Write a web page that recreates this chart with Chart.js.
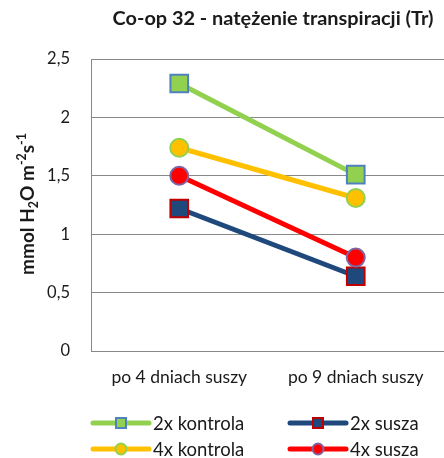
<!DOCTYPE html>
<html>
<head>
<meta charset="utf-8">
<script src="https://cdn.jsdelivr.net/npm/chart.js@4.4.1/dist/chart.umd.min.js"></script>
<style>
    html, body { margin: 0; padding: 0; background: #fff; }
    #wrap { width: 444px; height: 458px; overflow: hidden; }
</style>
</head>
<body>
<div id="wrap"><canvas id="trChart" width="444" height="458"></canvas></div>
<script>
const categories = ['po 4 dniach suszy', 'po 9 dniach suszy'];
const kontrola2x = [2.29, 1.51];
const susza2x = [1.22, 0.64];
const kontrola4x = [1.74, 1.31];
const susza4x = [1.50, 0.80];
const yMin = 0, yMax = 2.5, yStep = 0.5;

const FONT = 'Lato, "Open Sans", sans-serif';
const TEXT = '#1a1a1a';
const GRID = '#888888';

// dobiera rozmiar czcionki tak, żeby tekst miał zadaną szerokość
function fitSize(ctx, weight, text, width) {
    ctx.font = weight + ' 100px ' + FONT;
    return 100 * width / ctx.measureText(text).width;
}

// tytuł wykresu
const titlePlugin = {
    id: 'tytul',
    afterDraw(chart) {
        const ctx = chart.ctx;
        const txt = 'Co-op 32 - natężenie transpiracji (Tr)';
        ctx.save();
        const size = fitSize(ctx, 'bold', txt, 321);
        ctx.font = 'bold ' + size + 'px ' + FONT;
        ctx.fillStyle = TEXT;
        ctx.textAlign = 'center';
        ctx.textBaseline = 'alphabetic';
        ctx.fillText(txt, 273, 25);
        ctx.restore();
    }
};

// opis osi Y z indeksami
const yTitlePlugin = {
    id: 'osY',
    afterDraw(chart) {
        const ctx = chart.ctx;
        const parts = [
            ['mmol H', 0], ['2', 1], ['O m', 0], ['-2', -1], ['s', 0], ['-1', -1]
        ];
        ctx.save();
        // szerokość liczona dla rozmiaru 100px, potem skalowana
        let w100 = 0;
        parts.forEach(p => {
            ctx.font = 'bold ' + (p[1] ? 65 : 100) + 'px ' + FONT;
            w100 += ctx.measureText(p[0]).width;
        });
        const big = 100 * 142 / w100, small = big * 0.65;
        let total = w100 * big / 100;
        ctx.translate(34, 204);
        ctx.rotate(-Math.PI / 2);
        ctx.fillStyle = TEXT;
        ctx.textBaseline = 'alphabetic';
        let x = -total / 2;
        parts.forEach(p => {
            ctx.font = 'bold ' + (p[1] ? small : big) + 'px ' + FONT;
            const dy = p[1] === 1 ? big * 0.2 : (p[1] === -1 ? -big * 0.42 : 0);
            ctx.fillText(p[0], x, dy);
            x += ctx.measureText(p[0]).width;
        });
        ctx.restore();
    }
};

// legenda w dwóch kolumnach
const legendPlugin = {
    id: 'legenda',
    afterDraw(chart) {
        const ctx = chart.ctx;
        const cols = [93, 290], rows = [423, 449];
        chart.data.datasets.forEach((ds, i) => {
            const x0 = cols[i % 2], y = rows[Math.floor(i / 2)];
            ctx.save();
            ctx.strokeStyle = ds.borderColor;
            ctx.lineWidth = 5;
            ctx.lineCap = 'round';
            ctx.beginPath();
            ctx.moveTo(x0, y);
            ctx.lineTo(x0 + 56, y);
            ctx.stroke();
            ctx.fillStyle = ds.pointBackgroundColor;
            ctx.strokeStyle = ds.pointBorderColor;
            ctx.lineWidth = 2;
            ctx.beginPath();
            if (ds.pointStyle === 'rect') ctx.rect(x0 + 23, y - 5, 10, 10);
            else ctx.arc(x0 + 28, y, 5.5, 0, Math.PI * 2);
            ctx.fill();
            ctx.stroke();
            ctx.font = '18.5px ' + FONT;
            ctx.fillStyle = TEXT;
            ctx.textBaseline = 'middle';
            ctx.fillText(ds.label, x0 + 60, y + 1);
            ctx.restore();
        });
    }
};

const ctx = document.getElementById('trChart').getContext('2d');
new Chart(ctx, {
    type: 'line',
    data: {
        labels: categories,
        datasets: [
            {
                label: '2x kontrola',
                data: kontrola2x,
                borderColor: '#92D050',
                pointBackgroundColor: '#92D050',
                pointBorderColor: '#4F81BD',
                pointStyle: 'rect',
                pointRadius: 12.5,
                order: 1
            },
            {
                label: '2x susza',
                data: susza2x,
                borderColor: '#1F497D',
                pointBackgroundColor: '#1F497D',
                pointBorderColor: '#C00000',
                pointStyle: 'rect',
                pointRadius: 12.5,
                order: 4
            },
            {
                label: '4x kontrola',
                data: kontrola4x,
                borderColor: '#FFC000',
                pointBackgroundColor: '#FFC000',
                pointBorderColor: '#92D050',
                pointStyle: 'circle',
                pointRadius: 9,
                order: 2
            },
            {
                label: '4x susza',
                data: susza4x,
                borderColor: '#FF0000',
                pointBackgroundColor: '#FF0000',
                pointBorderColor: '#8064A2',
                pointStyle: 'circle',
                pointRadius: 9,
                order: 3
            }
        ].map(d => Object.assign({ borderWidth: 5, pointBorderWidth: 2, tension: 0, pointHoverRadius: d.pointRadius }, d))
    },
    options: {
        responsive: false,
        animation: false,
        // wykres w oryginale jest przycięty z prawej strony
        layout: { autoPadding: false, padding: { top: 59, right: -7, bottom: 57, left: 0 } },
        plugins: {
            legend: { display: false },
            title: { display: false },
            tooltip: { enabled: false }
        },
        scales: {
            x: {
                offset: true,
                grid: { display: false, drawTicks: false },
                border: { display: true, color: GRID, width: 1 },
                ticks: { color: TEXT, font: { family: FONT, size: 17.5 }, padding: 16 },
                afterFit: s => { s.height = 50; s.paddingLeft = 0; s.paddingRight = 0; }
            },
            y: {
                min: yMin,
                max: yMax,
                ticks: {
                    stepSize: yStep,
                    color: TEXT,
                    font: { family: FONT, size: 16.5 },
                    padding: 21,
                    callback: v => String(v).replace('.', ',')
                },
                grid: { color: GRID, lineWidth: 1, drawTicks: false },
                border: { display: true, color: GRID, width: 1 },
                afterFit: s => { s.width = 91; }
            }
        }
    },
    plugins: [titlePlugin, yTitlePlugin, legendPlugin]
});
</script>
</body>
</html>
